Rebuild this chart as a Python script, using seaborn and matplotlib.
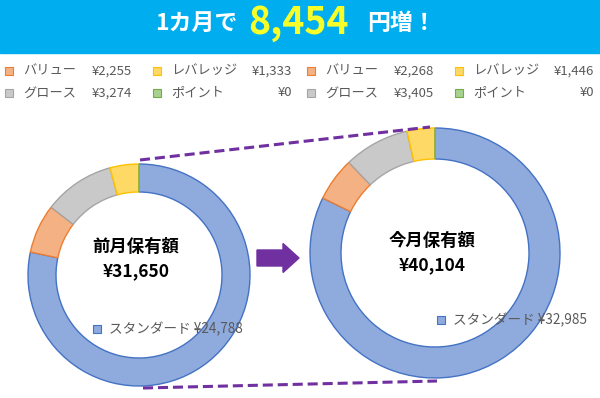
import matplotlib
matplotlib.use("Agg")
import matplotlib.pyplot as plt
import seaborn as sns
from matplotlib.patches import Rectangle, FancyArrow

# data
categories = ["スタンダード", "バリュー", "グロース", "レバレッジ", "ポイント"]
last_month = [24788, 2255, 3274, 1333, 0]
this_month = [32985, 2268, 3405, 1446, 0]
increase = 8454

fills = ["#8FAADC", "#F4B183", "#C9C9C9", "#FFD966", "#A9D18E"]
edges = ["#4472C4", "#ED7D31", "#A5A5A5", "#FFC000", "#70AD47"]

sns.set_theme(style="white")
plt.rcParams['font.family'] = ['Noto Sans CJK JP', 'DejaVu Sans']

W, H = 600, 398
fig = plt.figure(figsize=(6, 3.98), dpi=100)
ax = fig.add_axes([0, 0, 1, 1])


def Y(py):
    return H - py


def yen(v):
    return f"¥{v:,}"


# header band
ax.add_patch(Rectangle((0, Y(53)), W, 53, color="#00AEEF", zorder=0))
ax.text(237, Y(23), "1カ月で", ha="right", va="center", fontsize=16.5,
        fontweight="bold", color="white")
ax.text(298, Y(22), f"{increase:,}", ha="center", va="center", fontsize=27,
        fontweight="bold", color="#F7FF2A")
ax.text(367, Y(24), "円増！", ha="left", va="center", fontsize=16.5,
        fontweight="bold", color="white")


# legends (2x2 grid each, スタンダード is labelled on the donut)
def draw_legend(x0, vals):
    grid = [(1, 0, 0), (3, 0, 1), (2, 1, 0), (4, 1, 1)]
    for i, row, col in grid:
        mx = x0 + col * 148
        cy = 71 + row * 22
        ax.add_patch(Rectangle((mx, Y(cy) - 4), 8, 8, facecolor=fills[i],
                               edgecolor=edges[i], lw=0.8))
        ax.text(mx + 18, Y(cy), categories[i], ha="left", va="center",
                fontsize=9.5, color="#595959")
        ax.text(mx + 127 + col * 12, Y(cy), yen(vals[i]), ha="right",
                va="center", fontsize=9.5, color="#595959")


draw_legend(5, last_month)
draw_legend(307, this_month)


# donuts
def draw_donut(vals, cx, cy, r, w, title, ty, lab_x, lab_y):
    wedges, _ = ax.pie(vals, radius=r, center=(cx, Y(cy)), startangle=90,
                       counterclock=False, colors=fills,
                       wedgeprops=dict(width=w, linewidth=1))
    for wd, ec in zip(wedges, edges):
        wd.set_edgecolor(ec)
    ax.text(cx - 3, Y(ty), title, ha="center", va="center",
            fontsize=12.5, fontweight="bold", color="black")
    ax.text(cx - 3, Y(ty + 24), yen(sum(vals)), ha="center", va="center",
            fontsize=12.5, fontweight="bold", color="black")
    ax.add_patch(Rectangle((lab_x, Y(lab_y) - 4), 8, 8, facecolor=fills[0],
                           edgecolor=edges[0], lw=0.8))
    ax.text(lab_x + 16, Y(lab_y), f"{categories[0]} {yen(vals[0])}",
            ha="left", va="center", fontsize=9.8, color="#595959")


draw_donut(last_month, 139, 275, 111, 28, "前月保有額", 247, 93, 329)
draw_donut(this_month, 435, 253, 125, 31, "今月保有額", 241, 437, 320)

# connectors and arrow
purple = "#7030A0"
ax.plot([140, 430], [Y(160), Y(127)], color=purple, lw=2.2, dashes=(3.3, 1.6))
ax.plot([143, 437], [Y(388), Y(381)], color=purple, lw=2.2, dashes=(3.3, 1.6))
ax.add_patch(FancyArrow(257, Y(258), 42, 0, width=16, head_width=29,
                        head_length=16, length_includes_head=True,
                        color=purple))

ax.set_xlim(0, W)
ax.set_ylim(0, H)
ax.set_aspect("auto")
ax.axis("off")

plt.savefig("out.png", dpi=100)
plt.close()
